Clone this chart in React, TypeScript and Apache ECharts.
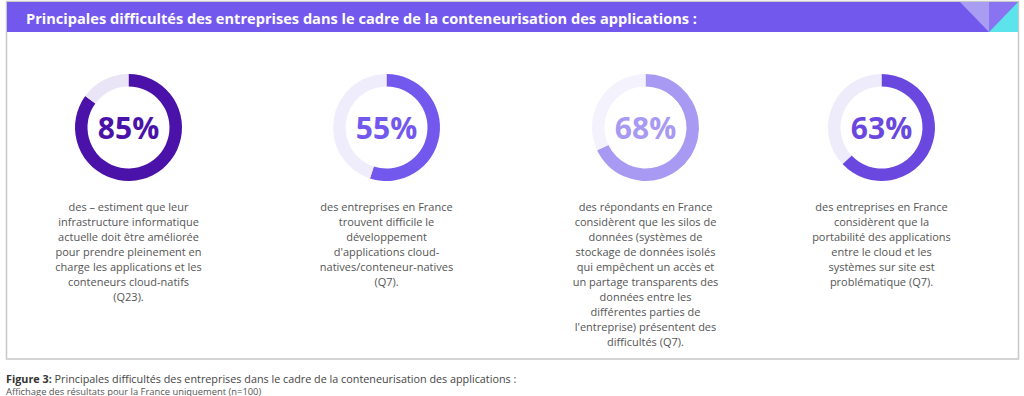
import React, { useEffect, useRef } from "react";
import * as echarts from "echarts";

const titleText =
  "Principales difficultés des entreprises dans le cadre de la conteneurisation des applications :";
const values = [85, 55, 68, 63];
const ringColors = ["#4A12A8", "#7358EE", "#A899F2", "#6A48E0"];
const trackColors = ["#E9E5F6", "#EFEDFC", "#F4F3FD", "#EEECFA"];
const descriptions = [
  [
    "des – estiment que leur",
    "infrastructure informatique",
    "actuelle doit être améliorée",
    "pour prendre pleinement en",
    "charge les applications et les",
    "conteneurs cloud-natifs",
    "(Q23).",
  ],
  [
    "des entreprises en France",
    "trouvent difficile le",
    "développement",
    "d'applications cloud-",
    "natives/conteneur-natives",
    "(Q7).",
  ],
  [
    "des répondants en France",
    "considèrent que les silos de",
    "données (systèmes de",
    "stockage de données isolés",
    "qui empêchent un accès et",
    "un partage transparents des",
    "données entre les",
    "différentes parties de",
    "l'entreprise) présentent des",
    "difficultés (Q7).",
  ],
  [
    "des entreprises en France",
    "considèrent que la",
    "portabilité des applications",
    "entre le cloud et les",
    "systèmes sur site est",
    "problématique (Q7).",
  ],
];
const captionBold = "Figure 3:";
const captionRest =
  " Principales difficultés des entreprises dans le cadre de la conteneurisation des applications :";
const captionSub = "Affichage des résultats pour la France uniquement (n=100)";

const centersX = [128.5, 386.5, 645.5, 881.5];
const centerY = 127.5;
const FONT = "'Open Sans', 'Noto Sans', sans-serif";

export default function App() {
  const ref = useRef<HTMLDivElement>(null);
  useEffect(() => {
    if (!ref.current) return;
    const chart = echarts.init(ref.current, undefined, { renderer: "svg" });

    const series = values.map((v, i) => ({
      type: "pie",
      silent: true,
      radius: [41, 53.5],
      center: [centersX[i], centerY],
      startAngle: 90,
      clockwise: true,
      labelLine: { show: false },
      emphasis: { disabled: true },
      data: [
        {
          value: v,
          name: v + "%",
          itemStyle: { color: ringColors[i] },
          label: {
            show: true,
            position: "center",
            formatter: "{b}",
            color: ringColors[i],
            fontSize: 30,
            fontWeight: 700,
            fontFamily: FONT,
          },
        },
        {
          value: 100 - v,
          name: "rest",
          itemStyle: { color: trackColors[i] },
          label: { show: false },
        },
      ],
    }));

    const descGraphics = descriptions.map((lines, i) => ({
      type: "text",
      x: centersX[i],
      y: 198.5,
      style: {
        text: lines.join("\n"),
        fill: "#555555",
        font: `400 11px ${FONT}`,
        lineHeight: 15,
        textAlign: "center",
        textVerticalAlign: "top",
      },
    }));

    chart.setOption({
      animation: false,
      backgroundColor: "#ffffff",
      graphic: [
        {
          type: "rect",
          shape: { x: 6.5, y: 1.5, width: 1012, height: 357.5 },
          style: { fill: "#ffffff", stroke: "#c8c8c8", lineWidth: 1.5 },
        },
        {
          type: "rect",
          shape: { x: 7, y: 2, width: 1011, height: 30 },
          style: { fill: "#7358EE" },
        },
        {
          type: "polygon",
          shape: { points: [[960, 2], [989, 2], [989, 32]] },
          style: { fill: "#A99CF3" },
        },
        {
          type: "polygon",
          shape: { points: [[989, 2], [1018, 2], [989, 32]] },
          style: { fill: "#8A73F1" },
        },
        {
          type: "polygon",
          shape: { points: [[1018, 2], [1018, 32], [989, 32]] },
          style: { fill: "#5CE4EA" },
        },
        {
          type: "text",
          x: 26,
          y: 18,
          style: {
            text: titleText,
            fill: "#ffffff",
            font: `700 14.6px ${FONT}`,
            textVerticalAlign: "middle",
          },
        },
        ...descGraphics,
        {
          type: "text",
          x: 6,
          y: 378,
          style: {
            text: `{b|${captionBold}}{r|${captionRest}}`,
            textVerticalAlign: "middle",
            rich: {
              b: { font: `700 10.8px ${FONT}`, fill: "#333333" },
              r: { font: `400 10.8px ${FONT}`, fill: "#444444" },
            },
          },
        },
        {
          type: "text",
          x: 6,
          y: 391,
          style: {
            text: captionSub,
            fill: "#555555",
            font: `400 9.4px ${FONT}`,
            textVerticalAlign: "middle",
          },
        },
      ],
      series,
    });
    return () => chart.dispose();
  }, []);
  return (
    <div
      ref={ref}
      style={{ position: "fixed", left: 0, top: 0, width: 1024, height: 396 }}
    />
  );
}
